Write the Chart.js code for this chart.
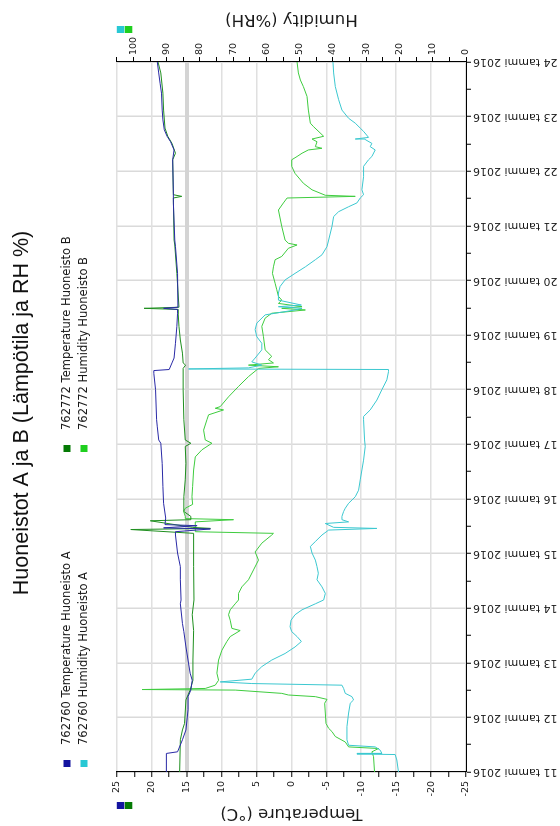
<!DOCTYPE html>
<html>
<head>
<meta charset="utf-8">
<script src="https://cdn.jsdelivr.net/npm/chart.js@4.4.1/dist/chart.umd.min.js"></script>
<style>
  html, body { margin: 0; padding: 0; background: #fff; overflow: hidden; }
  /* The chart is laid out landscape and turned a quarter turn counter-clockwise. */
  #wrap {
    position: absolute; left: 0; top: 0;
    width: 826px; height: 560px;
    transform-origin: 0 0;
    transform: translateY(826px) rotate(-90deg);
  }
</style>
</head>
<body>
<div id="wrap"><canvas id="chart" width="826" height="560"></canvas></div>
<script>
// ---- Data: days of January 2016 (fractional) and logger readings ----
const chartTitle = 'Huoneistot A ja B (Lämpötila ja RH %)';
const seriesLabels = [
  '762760 Temperature Huoneisto A',
  '762760 Humidity Huoneisto A',
  '762772 Temperature Huoneisto B',
  '762772 Humidity Huoneisto B'
];
const monthName = 'tammi';
const yearLabel = '2016';
const temperatureTitle = 'Temperature (°C)';
const humidityTitle = 'Humidity (%RH)';

const tempADays = [11.00, 11.34, 11.37, 11.59, 11.77, 12.14, 12.38, 12.50, 12.68, 12.81, 13.05, 13.29, 13.57, 13.72, 14.08,
  14.15, 14.52, 14.76, 15.01, 15.34, 15.40, 15.45, 15.47, 15.51, 15.53, 15.65, 15.92, 16.23, 16.65, 17.02, 17.08, 17.32, 17.45,
  18.00, 18.30, 18.35, 18.37, 18.49, 18.58, 18.85, 19.16, 19.40, 19.47, 19.49, 19.51, 20.13, 20.62, 20.74,
  21.42, 21.60, 22.21, 22.39, 22.54, 22.64, 22.76, 22.94, 23.12, 23.43, 23.61, 23.80, 24.00];
const tempAValues = [17.9, 17.9, 16.3, 15.6, 15.1, 14.8, 14.8, 14.4, 14.2, 14.5, 14.8, 15.1, 15.4, 15.6, 15.9,
  15.8, 15.9, 15.9, 16.3, 16.6, 16.6, 11.6, 18.3, 13.5, 18.1, 18.0, 18.3, 18.4, 18.5, 18.7, 19.0, 19.2, 19.3,
  19.45, 19.7, 19.7, 17.5, 17.1, 16.8, 16.6, 16.4, 16.3, 16.3, 18.3, 16.25, 16.3, 16.6, 16.7,
  16.9, 16.9, 17.0, 16.8, 17.3, 17.8, 18.2, 18.4, 18.5, 18.6, 18.8, 19.0, 19.2];

const humADays = [11.00, 11.22, 11.32, 11.33, 11.34, 11.40, 11.46, 11.49, 11.59, 11.83, 12.08, 12.26, 12.32, 12.38, 12.44,
  12.53, 12.59, 12.62, 12.65, 12.70, 12.81, 12.93, 13.05, 13.17, 13.29, 13.39, 13.48, 13.57, 13.66, 13.78, 13.88, 13.97,
  14.08, 14.15, 14.27, 14.39, 14.52, 14.64, 14.76, 14.88, 15.01, 15.13, 15.22, 15.34, 15.43, 15.46, 15.48, 15.55, 15.58,
  15.62, 15.68, 15.77, 15.83, 15.92, 16.04, 16.16, 16.35, 16.53, 16.71, 16.96, 17.08, 17.45, 17.51, 17.63, 17.81, 18.00,
  18.18, 18.33, 18.37, 18.38, 18.40, 18.45, 18.51, 18.58, 18.73, 18.85, 18.97, 19.10, 19.22, 19.37, 19.46, 19.49, 19.52,
  19.55, 19.64, 19.77, 19.89, 20.01, 20.13, 20.25, 20.38, 20.47, 20.62, 20.74, 20.99, 21.17, 21.26, 21.35, 21.42, 21.51,
  21.57, 21.66, 21.90, 22.09, 22.21, 22.27, 22.39, 22.45, 22.51, 22.58, 22.59, 22.62, 22.73, 22.79, 22.88, 22.97, 23.12,
  23.31, 23.55, 23.80, 24.00];
const humAValues = [20.3, 20.8, 21.3, 32.8, 25.3, 25.8, 27.3, 35.3, 35.8, 35.8, 35.3, 34.8, 33.8, 34.3, 36.3,
  36.8, 37.3, 64.4, 73.9, 64.4, 63.4, 61.4, 58.4, 54.4, 51.4, 49.5, 50.8, 52.4, 52.9, 52.6, 51.4, 49.3,
  45.3, 42.8, 42.3, 43.3, 44.8, 44.4, 44.8, 45.3, 46.3, 46.8, 45.3, 43.3, 41.3, 26.8, 39.8, 42.3, 35.3,
  37.3, 37.3, 36.8, 36.3, 35.3, 33.3, 32.3, 31.8, 31.3, 30.8, 30.3, 30.5, 30.8, 30.8, 28.8, 26.8, 25.3,
  23.8, 23.3, 23.3, 83.4, 65.4, 61.4, 64.4, 63.4, 61.4, 61.4, 62.9, 63.4, 62.9, 60.4, 51.4, 49.3, 56.4,
  49.5, 56.4, 56.4, 55.9, 54.4, 51.4, 48.3, 45.3, 43.3, 41.8, 41.3, 40.3, 39.8, 38.3, 35.3, 32.8, 31.8,
  30.8, 31.3, 30.8, 30.8, 29.3, 28.3, 27.3, 28.8, 28.3, 30.3, 33.3, 29.3, 30.8, 31.8, 33.3, 35.3, 37.3,
  38.3, 39.3, 39.8, 40.0];

const tempBDays = [11.00, 11.59, 11.77, 11.89, 12.32, 12.50, 12.68, 13.05, 13.59, 13.88, 14.15, 14.76, 15.37, 15.44, 15.46,
  15.48, 15.60, 15.62, 15.68, 15.77, 16.04, 16.35, 16.65, 16.96, 17.02, 17.08, 17.45, 18.00, 18.39, 18.45, 18.49, 18.67,
  18.91, 19.16, 19.37, 19.47, 19.49, 19.51, 20.13, 20.65, 20.74, 21.51, 21.54, 21.57, 22.21, 22.33, 22.51, 22.64, 22.79,
  23.12, 23.43, 23.80, 24.00];
const tempBValues = [16.0, 15.9, 15.6, 15.3, 15.1, 14.5, 14.1, 14.1, 14.0, 14.2, 13.95, 14.0, 14.0, 23.0, 11.6,
  14.2, 20.2, 14.4, 14.4, 15.4, 15.4, 15.2, 15.1, 15.2, 14.4, 15.2, 15.4, 15.5, 15.5, 15.15, 15.5, 15.6,
  15.9, 16.1, 16.2, 16.2, 21.1, 16.1, 16.4, 16.7, 16.8, 16.9, 15.7, 16.9, 17.0, 16.6, 17.1, 17.7, 18.1,
  18.3, 18.4, 18.7, 19.1];

const humBDays = [11.00, 11.28, 11.37, 11.43, 11.46, 11.55, 11.65, 11.74, 11.80, 11.89, 12.08, 12.26, 12.33, 12.38, 12.41,
  12.44, 12.50, 12.51, 12.53, 12.59, 12.68, 12.81, 13.05, 13.23, 13.39, 13.48, 13.59, 13.63, 13.78, 13.88, 13.97, 14.08,
  14.15, 14.27, 14.39, 14.52, 14.70, 14.88, 15.03, 15.19, 15.34, 15.37, 15.40, 15.58, 15.62, 15.64, 15.68, 15.77, 15.83,
  15.90, 16.04, 16.23, 16.53, 16.77, 16.90, 17.02, 17.08, 17.26, 17.45, 17.54, 17.63, 17.66, 17.69, 17.87, 18.06, 18.24,
  18.39, 18.42, 18.45, 18.49, 18.55, 18.61, 18.73, 18.97, 19.16, 19.31, 19.40, 19.46, 19.49, 19.52, 19.58, 19.64, 19.71,
  19.83, 19.95, 20.13, 20.25, 20.38, 20.44, 20.59, 20.65, 20.68, 20.74, 20.99, 21.29, 21.42, 21.51, 21.54, 21.56, 21.66,
  21.78, 21.96, 22.09, 22.21, 22.27, 22.33, 22.39, 22.42, 22.45, 22.54, 22.59, 22.64, 22.82, 22.88, 23.12, 23.37, 23.55,
  23.67, 23.80, 24.00];
const humBValues = [27.5, 27.8, 28.3, 26.3, 35.3, 36.3, 39.3, 40.3, 41.3, 42.1, 42.3, 42.5, 41.8, 45.3, 53.4,
  55.4, 69.4, 97.4, 78.4, 75.4, 74.4, 74.9, 74.4, 73.4, 71.9, 70.9, 67.9, 70.4, 70.9, 71.4, 70.9, 69.4,
  68.4, 68.4, 67.4, 65.4, 63.9, 62.4, 63.4, 61.4, 58.4, 57.9, 81.4, 81.4, 69.9, 84.4, 84.4, 84.9, 84.4,
  82.2, 82.4, 82.2, 81.9, 81.4, 79.4, 76.4, 78.4, 78.9, 77.9, 77.4, 72.9, 75.4, 73.9, 71.4, 68.4, 65.4,
  62.4, 56.4, 65.4, 57.9, 59.4, 58.4, 60.4, 60.9, 61.4, 60.4, 58.4, 48.3, 55.4, 49.3, 56.4, 55.4, 56.4,
  56.9, 57.4, 58.2, 57.9, 57.4, 55.4, 53.4, 50.8, 53.4, 54.4, 55.4, 56.4, 54.9, 53.8, 33.3, 42.3, 46.3,
  48.9, 51.4, 52.4, 52.4, 50.8, 49.3, 47.4, 43.3, 45.3, 44.8, 46.3, 42.8, 45.9, 46.8, 47.4, 47.8, 48.9,
  49.8, 50.4, 50.8];

// ---- Styling ----
const lineColors = ['#2a2aa6', '#3cc8d0', '#1f8f1f', '#3fcc3f'];
const keyColors  = ['#1414a0', '#28c8d4', '#047a04', '#1fcf1f'];
const tickFont = { family: "'DejaVu Sans', sans-serif", size: 9.5 };
const axisTitleFont = { family: "'DejaVu Sans', sans-serif", size: 16.5 };
const textColor = '#1a1a1a';

const toPoints = (days, values) => days.map((d, i) => ({ x: d, y: values[i] }));

// Two-column legend under the title.
const legendGrid = {
  id: 'legendGrid',
  afterDraw(chart) {
    const { ctx } = chart;
    ctx.save();
    ctx.font = "11.5px 'DejaVu Sans', sans-serif";
    ctx.textBaseline = 'middle';
    ctx.textAlign = 'left';
    chart.data.datasets.forEach((ds, i) => {
      const col = Math.floor(i / 2), row = i % 2;
      const x = 59 + col * 315, y = 67 + row * 17;
      ctx.fillStyle = keyColors[i];
      ctx.fillRect(x, y - 3.5, 7, 7);
      ctx.fillStyle = textColor;
      ctx.fillText(ds.label, x + 22, y);
    });
    ctx.restore();
  }
};

// Colour keys at the top of each value axis, plus the humidity axis title.
const axisKeys = {
  id: 'axisKeys',
  afterDraw(chart) {
    const { ctx, chartArea } = chart;
    const top = chartArea.top;
    ctx.save();
    [[0, 2, 17], [1, 3, 793]].forEach(([a, b, x]) => {
      ctx.fillStyle = keyColors[a];
      ctx.fillRect(x, top, 7, 7.5);
      ctx.fillStyle = keyColors[b];
      ctx.fillRect(x, top + 8, 7, 7.5);
    });
    ctx.translate(807, (chartArea.top + chartArea.bottom) / 2);
    ctx.rotate(-Math.PI / 2);
    ctx.font = `${axisTitleFont.size}px ${axisTitleFont.family}`;
    ctx.fillStyle = textColor;
    ctx.textAlign = 'center';
    ctx.textBaseline = 'middle';
    ctx.fillText(humidityTitle, 0, 0);
    ctx.restore();
  }
};

const datasets = [
  { label: seriesLabels[0], data: toPoints(tempADays, tempAValues), yAxisID: 'yT', borderColor: lineColors[0] },
  { label: seriesLabels[1], data: toPoints(humADays, humAValues), yAxisID: 'yH', borderColor: lineColors[1] },
  { label: seriesLabels[2], data: toPoints(tempBDays, tempBValues), yAxisID: 'yT', borderColor: lineColors[2] },
  { label: seriesLabels[3], data: toPoints(humBDays, humBValues), yAxisID: 'yH', borderColor: lineColors[3] }
];

new Chart(document.getElementById('chart'), {
  type: 'line',
  data: { datasets },
  options: {
    responsive: false,
    animation: false,
    devicePixelRatio: 1,
    layout: { padding: 0 },
    elements: {
      point: { radius: 0, hoverRadius: 0 },
      line: { borderWidth: 1, tension: 0, fill: false }
    },
    plugins: {
      legend: { display: false },
      tooltip: { enabled: false },
      title: {
        display: true,
        text: chartTitle,
        color: '#111',
        font: { family: "'Liberation Sans', Arial, sans-serif", size: 21.5, weight: 'normal' },
        padding: { top: 9, bottom: 82 }
      }
    },
    scales: {
      x: {
        type: 'linear',
        min: 11,
        max: 24,
        afterFit: s => { s.height = 94; },
        border: { display: true, color: '#000', width: 1 },
        grid: {
          color: c => (c.tick && Number.isInteger(c.tick.value)) ? '#dadada' : 'rgba(0,0,0,0)',
          lineWidth: 1.5,
          tickColor: '#000',
          tickWidth: 1,
          tickLength: 5
        },
        ticks: {
          stepSize: 0.5,
          autoSkip: false,
          minRotation: 90,
          maxRotation: 90,
          padding: 2,
          color: textColor,
          font: { family: "'DejaVu Sans', sans-serif", size: 11 },
          callback: v => Number.isInteger(v) ? `${v} ${monthName} ${yearLabel}` : ''
        }
      },
      yT: {
        type: 'linear',
        position: 'left',
        min: -25,
        max: 25,
        afterFit: s => { s.width = 54; },
        border: { display: true, color: '#000', width: 1 },
        grid: {
          color: c => {
            if (!c.tick || c.tick.value % 5 !== 0) return 'rgba(0,0,0,0)';
            return c.tick.value === 15 ? '#d4d4d4' : '#e0e0e0';
          },
          lineWidth: c => (c.tick && c.tick.value === 15) ? 4 : 1.5,
          tickColor: '#000',
          tickWidth: 1,
          tickLength: 5
        },
        ticks: {
          stepSize: 2.5,
          autoSkip: false,
          padding: 4,
          color: textColor,
          font: tickFont,
          callback: v => (v % 5 === 0) ? String(v) : ''
        },
        title: {
          display: true,
          text: temperatureTitle,
          color: textColor,
          font: axisTitleFont,
          padding: { top: 3, bottom: 0 }
        }
      },
      yH: {
        type: 'linear',
        position: 'right',
        min: 0,
        max: 105,
        afterFit: s => { s.width = 62; },
        border: { display: true, color: '#000', width: 1 },
        grid: {
          drawOnChartArea: false,
          tickColor: '#000',
          tickWidth: 1,
          tickLength: 5
        },
        ticks: {
          stepSize: 5,
          autoSkip: false,
          padding: 2,
          color: textColor,
          font: tickFont,
          callback: v => (v % 10 === 0) ? String(v) : ''
        }
      }
    }
  },
  plugins: [legendGrid, axisKeys]
});
</script>
</body>
</html>
